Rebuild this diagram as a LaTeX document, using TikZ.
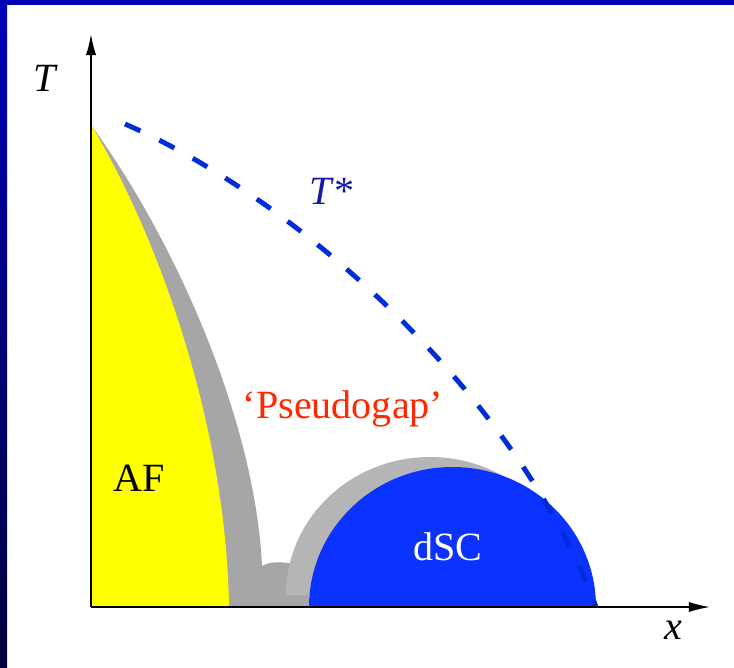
\documentclass[tikz,border=0pt]{standalone}
\usepackage{fontspec}
\setmainfont{Liberation Serif}
\usetikzlibrary{arrows.meta}
\definecolor{framebl}{RGB}{0,0,185}
\definecolor{framedk}{RGB}{0,0,60}
\definecolor{afyel}{RGB}{255,255,0}
\definecolor{pgdark}{RGB}{166,166,166}
\definecolor{pglight}{RGB}{181,181,181}
\definecolor{scblue}{RGB}{12,50,255}
\definecolor{tstar}{RGB}{0,45,215}
\definecolor{tlabel}{RGB}{20,25,160}
\definecolor{pgred}{RGB}{255,40,0}

\begin{document}
\begin{tikzpicture}[
  x=0.01cm, y=-0.01cm,
  every node/.style={font=\fontsize{11.4}{13}\selectfont, inner sep=0pt},
  axis/.style={line width=0.45pt, -{Latex[length=6pt,width=2.9pt]}},
  crossover/.style={tstar, line width=1.4pt, dash pattern=on 4.8pt off 6pt}
]
  % page and frame
  \useasboundingbox (0,0) rectangle (734,667);
  \fill[white] (0,0) rectangle (734,667);
  \fill[framebl] (0,0) rectangle (734,5);
  \shade[top color=framebl, bottom color=framedk] (0,0) rectangle (7,667);

  \coordinate (o) at (91,607);
  \coordinate (ytop) at (91,34);
  \coordinate (xend) at (710,607);

  % pseudogap band round AF
  \fill[pgdark] (91,125) .. controls (175,240) and (255,420) .. (262,566)
    .. controls (270,561) and (285,561) .. (300,566) -- (312,607) -- (o) -- cycle;

  % superconducting dome
  \fill[pglight] (286,595) arc[start angle=180, end angle=360, x radius=144, y radius=138] -- cycle;
  \fill[scblue] (309,607) arc[start angle=180, end angle=360, x radius=143.5, y radius=140] -- cycle;

  % antiferromagnet
  \fill[afyel] (91,125) .. controls (155,230) and (226,420) .. (229,607) -- (o) -- cycle;

  % T* crossover
  \draw[crossover] (125,124) .. controls (300,200) and (520,400) .. (596,607);

  % axes
  \draw[axis] (o) -- (ytop);
  \draw[axis] (o) -- (xend);

  \node (tlab) at (45,78) {\itshape T};
  \node (xlab) at (673,630) {\itshape x};
  \node[text=tlabel] (tstarlab) at (332,191) {\textit{T}*};
  \node[text=pgred] (pseudo) at (343,409) {‘Pseudogap’};
  \node (af) at (139,478) {AF};
  \node[text=white] (dsc) at (448,547) {dSC};
\end{tikzpicture}
\end{document}
